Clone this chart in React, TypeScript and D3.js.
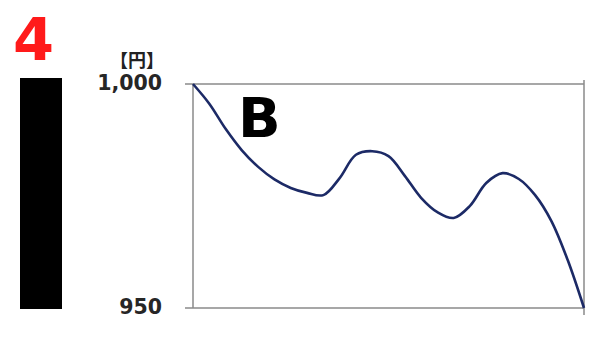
import React from "react";
import * as d3 from "d3";

const values: number[] = [
  1000, 995.6, 990.0, 985.2, 981.5, 978.7, 976.8, 975.7, 975.2, 979.0, 984.2, 985.0,
  983.9, 979.5, 974.6, 971.4, 970.1, 972.8, 977.9, 980.1, 978.8, 975.2, 969.4, 960.7, 950,
];
const yTicks: number[] = [950, 1000];
const unitLabel = "【円】";
const panelNumber = "4";
const panelLetter = "B";

const W = 600;
const H = 341;
const plot = { left: 193, right: 584, top: 84, bottom: 308 };

export default function App() {
  const x = d3.scaleLinear().domain([0, values.length - 1]).range([plot.left, plot.right]);
  const y = d3.scaleLinear().domain([950, 1000]).range([plot.bottom, plot.top]);
  const line = d3
    .line<number>()
    .x((_, i) => x(i))
    .y((d) => y(d))
    .curve(d3.curveCatmullRom.alpha(0.5));
  const fmt = d3.format(",");
  const axisColor = "#8a8a8a";
  return (
    <svg
      width={W}
      height={H}
      style={{ position: "fixed", left: 0, top: 0, background: "#fff" }}
    >
      <rect x={0} y={0} width={W} height={H} fill="#fff" />
      {/* panel number */}
      <text
        x={13}
        y={60}
        fill="#ff1a1a"
        fontFamily="DejaVu Sans"
        fontWeight="bold"
        fontSize={59}
      >
        {panelNumber}
      </text>
      <rect x={20} y={78} width={42} height={231} fill="#000" />
      {/* unit */}
      <text
        x={137}
        y={67}
        textAnchor="middle"
        fontFamily="Noto Sans CJK JP"
        fontWeight="bold"
        fontSize={18}
        fill="#222"
      >
        {unitLabel}
      </text>
      {/* plot frame */}
      <line x1={plot.left - 8} x2={plot.right} y1={plot.top} y2={plot.top} stroke={axisColor} strokeWidth={1.5} />
      <line x1={plot.left - 8} x2={plot.right} y1={plot.bottom} y2={plot.bottom} stroke={axisColor} strokeWidth={1.5} />
      <line x1={plot.left} x2={plot.left} y1={plot.top} y2={plot.bottom} stroke={axisColor} strokeWidth={1.5} />
      <line x1={plot.right} x2={plot.right} y1={plot.top - 4} y2={plot.bottom + 7} stroke={axisColor} strokeWidth={1.5} />
      {yTicks.map((t) => (
        <text
          key={t}
          x={162}
          y={y(t) + 6}
          textAnchor="end"
          fontFamily="DejaVu Sans"
          fontWeight="bold"
          fontSize={20.5}
          fill="#262626"
        >
          {fmt(t)}
        </text>
      ))}
      <path d={line(values) || ""} fill="none" stroke="#1c2a66" strokeWidth={2.6} strokeLinejoin="round" />
      <text
        x={238}
        y={137}
        fontFamily="DejaVu Sans"
        fontWeight="bold"
        fontSize={56}
        fill="#000"
      >
        {panelLetter}
      </text>
    </svg>
  );
}
